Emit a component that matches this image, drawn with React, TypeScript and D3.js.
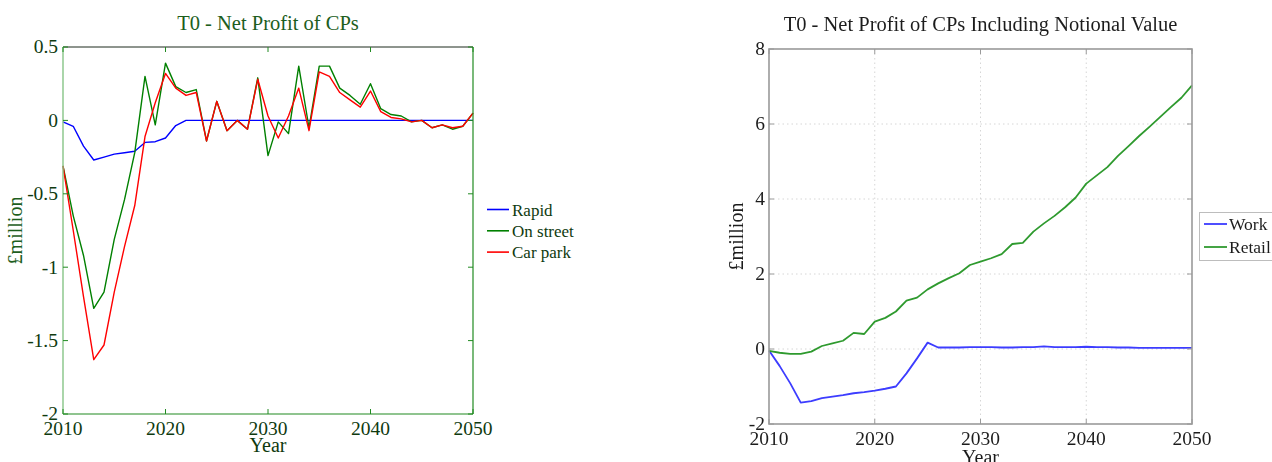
import React from "react";
import * as d3 from "d3";

// Years shared by both panels
const years: number[] = d3.range(2010, 2051);

// Left panel: net profit of charge points (£million)
const rapid: number[] = [
  -0.01, -0.04, -0.175, -0.27, -0.25, -0.23, -0.22, -0.21, -0.15, -0.145,
  -0.12, -0.035, 0, 0, 0, 0, 0, 0, 0, 0,
  0, 0, 0, 0, 0, 0, 0, 0, 0, 0,
  0, 0, 0, 0, 0, 0, 0, 0, 0, 0, 0,
];
const onStreet: number[] = [
  -0.31, -0.65, -0.92, -1.28, -1.17, -0.81, -0.54, -0.22, 0.3, -0.03,
  0.39, 0.23, 0.19, 0.21, -0.14, 0.13, -0.07, 0.0, -0.06, 0.29,
  -0.24, -0.01, -0.09, 0.37, -0.05, 0.37, 0.37, 0.22, 0.17, 0.11,
  0.25, 0.08, 0.04, 0.03, -0.01, 0.0, -0.05, -0.03, -0.06, -0.04, 0.05,
];
const carPark: number[] = [
  -0.31, -0.75, -1.2, -1.63, -1.53, -1.17, -0.86, -0.58, -0.11, 0.12,
  0.32, 0.22, 0.17, 0.19, -0.14, 0.13, -0.07, 0.0, -0.06, 0.28,
  0.03, -0.12, 0.03, 0.22, -0.07, 0.33, 0.3, 0.19, 0.14, 0.09,
  0.2, 0.06, 0.02, 0.01, -0.01, 0.0, -0.05, -0.03, -0.05, -0.04, 0.05,
];

// Right panel: net profit including notional value (£million)
const work: number[] = [
  -0.04, -0.45, -0.91, -1.43, -1.39, -1.31, -1.27, -1.23, -1.18, -1.15,
  -1.11, -1.06, -1.0, -0.65, -0.25, 0.17, 0.04, 0.04, 0.04, 0.05,
  0.05, 0.05, 0.04, 0.04, 0.05, 0.05, 0.07, 0.05, 0.05, 0.05,
  0.06, 0.05, 0.05, 0.04, 0.04, 0.03, 0.03, 0.03, 0.03, 0.03, 0.03,
];
const retail: number[] = [
  -0.05, -0.1, -0.13, -0.13, -0.07, 0.08, 0.15, 0.22, 0.43, 0.4,
  0.73, 0.83, 1.0, 1.29, 1.37, 1.59, 1.75, 1.89, 2.02, 2.24,
  2.33, 2.42, 2.53, 2.8, 2.83, 3.13, 3.35, 3.55, 3.78, 4.04,
  4.41, 4.63, 4.85, 5.15, 5.41, 5.68, 5.93, 6.19, 6.45, 6.7, 7.03,
];

const xTicks: number[] = [2010, 2020, 2030, 2040, 2050];
const leftYTicks: number[] = [0.5, 0, -0.5, -1, -1.5, -2];
const rightYTicks: number[] = [8, 6, 4, 2, 0, -2];

const leftSeries = [
  { name: "Rapid", values: rapid, color: "#0000ff" },
  { name: "On street", values: onStreet, color: "#008000" },
  { name: "Car park", values: carPark, color: "#ff0000" },
];
const rightSeries = [
  { name: "Work", values: work, color: "#3c3cff" },
  { name: "Retail", values: retail, color: "#2f9a2f" },
];

const FONT = "'Liberation Serif', 'Times New Roman', serif";
const TITLE_SIZE = 20.5;
const TICK_SIZE = 19.5;
const LABEL_SIZE = 20;

function LeftPanel() {
  const x = d3.scaleLinear().domain([2010, 2050]).range([63, 473]);
  const y = d3.scaleLinear().domain([-2, 0.5]).range([414, 47]);
  const [x0, x1] = x.range();
  const [yb, yt] = y.range();
  const textColor = "#0f3a0f";
  const axisGreen = "#218a21";
  const line = (vals: number[]) =>
    d3
      .line<number>()
      .x((_, i) => x(years[i]))
      .y((v) => y(v))(vals) || "";
  const tick = 5;
  return (
    <g fontFamily={FONT}>
      <rect x={x0} y={yt} width={x1 - x0} height={yb - yt} fill="#fff" />
      <text x={(x0 + x1) / 2} y={30} textAnchor="middle" fontSize={TITLE_SIZE} fill="#1d5e1d">
        T0 - Net Profit of CPs
      </text>
      {/* series */}
      {leftSeries.map((s) => (
        <path key={s.name} d={line(s.values)} fill="none" stroke={s.color} strokeWidth={1.4} strokeLinejoin="round" />
      ))}
      {/* frame */}
      <line x1={x0} x2={x1} y1={yt} y2={yt} stroke="#1c2a1c" strokeWidth={1} />
      <line x1={x1} x2={x1} y1={yt} y2={yb} stroke={axisGreen} strokeWidth={1.2} />
      <line x1={x0} x2={x1} y1={yb} y2={yb} stroke={axisGreen} strokeWidth={1.2} />
      <line x1={x0} x2={x0} y1={yt} y2={yb} stroke="#86c486" strokeWidth={1.4} />
      {/* x ticks */}
      {xTicks.map((t) => (
        <g key={t}>
          <line x1={x(t)} x2={x(t)} y1={yb} y2={yb - tick} stroke={axisGreen} />
          <line x1={x(t)} x2={x(t)} y1={yt} y2={yt + tick} stroke={axisGreen} />
          <text x={x(t)} y={435} textAnchor="middle" fontSize={TICK_SIZE} fill={textColor}>
            {t}
          </text>
        </g>
      ))}
      {/* y ticks */}
      {leftYTicks.map((t) => (
        <g key={t}>
          <line x1={x0} x2={x0 + tick} y1={y(t)} y2={y(t)} stroke={axisGreen} />
          <line x1={x1} x2={x1 - tick} y1={y(t)} y2={y(t)} stroke={axisGreen} />
          <text x={58} y={y(t)} dy="0.33em" textAnchor="end" fontSize={TICK_SIZE} fill={textColor}>
            {t}
          </text>
        </g>
      ))}
      <text x={(x0 + x1) / 2} y={452} textAnchor="middle" fontSize={LABEL_SIZE} fill={textColor}>
        Year
      </text>
      <text
        transform={`translate(22, ${(yt + yb) / 2}) rotate(-90)`}
        textAnchor="middle"
        fontSize={LABEL_SIZE}
        fill="#1d5e1d"
      >
        £million
      </text>
      {/* legend */}
      {leftSeries.map((s, i) => {
        const ly = 209.5 + i * 21.3;
        return (
          <g key={s.name}>
            <line x1={487} x2={509} y1={ly} y2={ly} stroke={s.color} strokeWidth={1.6} />
            <text x={512} y={ly + 6} fontSize={17} fill={textColor}>
              {s.name}
            </text>
          </g>
        );
      })}
    </g>
  );
}

function RightPanel() {
  const x = d3.scaleLinear().domain([2010, 2050]).range([769, 1192]);
  const y = d3.scaleLinear().domain([-2, 8]).range([424, 49]);
  const [x0, x1] = x.range();
  const [yb, yt] = y.range();
  const textColor = "#1e1e1e";
  const frame = "#9a9a9a";
  const line = (vals: number[]) =>
    d3
      .line<number>()
      .x((_, i) => x(years[i]))
      .y((v) => y(v))(vals) || "";
  const tick = 5;
  return (
    <g fontFamily={FONT} filter="url(#soft)">
      <text x={(x0 + x1) / 2} y={31} textAnchor="middle" fontSize={TITLE_SIZE} fill={textColor}>
        T0 - Net Profit of CPs Including Notional Value
      </text>
      {/* grid */}
      {xTicks.slice(1, -1).map((t) => (
        <line key={"gx" + t} x1={x(t)} x2={x(t)} y1={yt} y2={yb} stroke="#d6d6d6" strokeDasharray="1.5,3" />
      ))}
      {rightYTicks.slice(1, -1).map((t) => (
        <line key={"gy" + t} x1={x0} x2={x1} y1={y(t)} y2={y(t)} stroke="#d6d6d6" strokeDasharray="1.5,3" />
      ))}
      {/* series */}
      {rightSeries.map((s) => (
        <path key={s.name} d={line(s.values)} fill="none" stroke={s.color} strokeWidth={1.8} strokeLinejoin="round" />
      ))}
      {/* frame */}
      <rect x={x0} y={yt} width={x1 - x0} height={yb - yt} fill="none" stroke={frame} strokeWidth={1.6} />
      {xTicks.map((t) => (
        <g key={t}>
          <line x1={x(t)} x2={x(t)} y1={yb} y2={yb - tick} stroke={frame} />
          <line x1={x(t)} x2={x(t)} y1={yt} y2={yt + tick} stroke={frame} />
          <text x={x(t)} y={445} textAnchor="middle" fontSize={TICK_SIZE} fill={textColor}>
            {t}
          </text>
        </g>
      ))}
      {rightYTicks.map((t) => (
        <g key={t}>
          <line x1={x0} x2={x0 + tick} y1={y(t)} y2={y(t)} stroke={frame} />
          <line x1={x1} x2={x1 - tick} y1={y(t)} y2={y(t)} stroke={frame} />
          <text x={765} y={y(t)} dy="0.33em" textAnchor="end" fontSize={TICK_SIZE} fill={textColor}>
            {t}
          </text>
        </g>
      ))}
      <text x={(x0 + x1) / 2} y={464} textAnchor="middle" fontSize={LABEL_SIZE} fill={textColor}>
        Year
      </text>
      <text
        transform={`translate(743, ${(yt + yb) / 2}) rotate(-90)`}
        textAnchor="middle"
        fontSize={LABEL_SIZE}
        fill={textColor}
      >
        £million
      </text>
      {/* legend */}
      <rect x={1199.5} y={212.5} width={80} height={48} fill="#fff" stroke="#bdbdbd" />
      {rightSeries.map((s, i) => {
        const ly = 224 + i * 23;
        return (
          <g key={s.name}>
            <line x1={1204} x2={1227} y1={ly} y2={ly} stroke={s.color} strokeWidth={1.8} />
            <text x={1229} y={ly + 6} fontSize={17.5} fill={textColor}>
              {s.name}
            </text>
          </g>
        );
      })}
    </g>
  );
}

export default function App() {
  return (
    <svg
      width={1272}
      height={462}
      viewBox="0 0 1272 462"
      style={{ position: "absolute", left: 0, top: 0, background: "#fff" }}
    >
      <defs>
        <filter id="soft" x="-5%" y="-5%" width="110%" height="110%">
          <feGaussianBlur stdDeviation={0.45} />
        </filter>
      </defs>
      <rect width={1272} height={462} fill="#fff" />
      <LeftPanel />
      <RightPanel />
    </svg>
  );
}
